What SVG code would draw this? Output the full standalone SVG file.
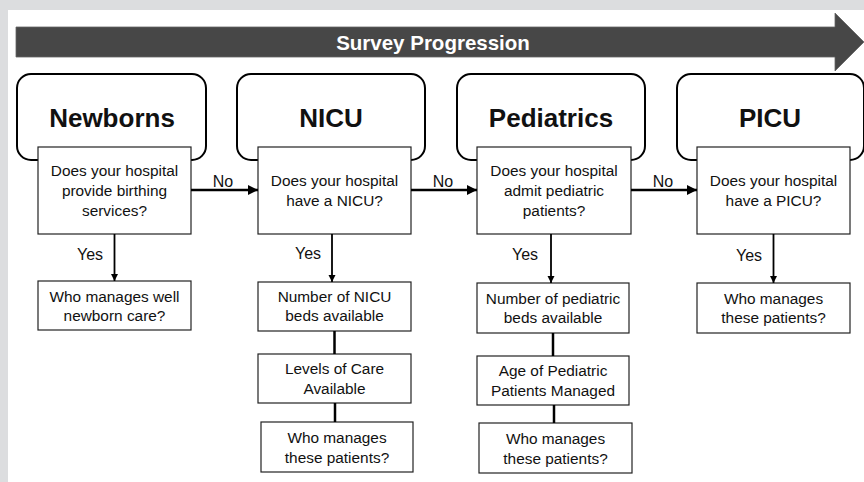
<svg xmlns="http://www.w3.org/2000/svg" width="864" height="482" viewBox="0 0 864 482">
<defs>
<style>
.hdr{fill:#fff;stroke:#000;stroke-width:2}
.q{fill:#fff;stroke:#222;stroke-width:1.2}
.ht{font-family:"Liberation Sans",Arial,sans-serif;font-weight:bold;font-size:26px;fill:#111;text-anchor:middle}
.t{font-family:"Liberation Sans",Arial,sans-serif;font-size:15.4px;fill:#111;text-anchor:middle}
.lbl{font-family:"Liberation Sans",Arial,sans-serif;font-size:16px;fill:#111;text-anchor:middle}
.ln{stroke:#000;stroke-width:2.5;fill:none}
.ln2{stroke:#000;stroke-width:1.8;fill:none}
</style>
<marker id="ah" viewBox="0 0 10 10" refX="10" refY="5" markerWidth="4" markerHeight="4" markerUnits="strokeWidth" orient="auto">
<path d="M0,0 L10,5 L0,10 z" fill="#000"/>
</marker>
<marker id="ahs" viewBox="0 0 10 10" refX="10" refY="5" markerWidth="4" markerHeight="4" markerUnits="strokeWidth" orient="auto">
<path d="M0,0 L10,5 L0,10 z" fill="#000"/>
</marker>
</defs>
<rect x="0" y="0" width="864" height="482" fill="#dcdddf"/>
<rect x="8" y="10" width="856" height="472" fill="#fff"/>

<g id="banner">
<path d="M16,27 L835,27 L835,13 L864,42 L835,71 L835,57 L16,57 Z" fill="#474747" stroke="#666" stroke-width="0.8"/>
<text x="433" y="50" font-family="Liberation Sans, Arial, sans-serif" font-weight="bold" font-size="20.5" fill="#fff" text-anchor="middle">Survey Progression</text>
</g>

<g id="newborns">
<rect class="hdr" x="17" y="74" width="189" height="86" rx="14"/>
<text class="ht" x="112" y="127">Newborns</text>
<rect class="q" x="38" y="147" width="153" height="87"/>
<text class="t" x="114.5" y="176">Does your hospital</text>
<text class="t" x="114.5" y="196">provide birthing</text>
<text class="t" x="114.5" y="216">services?</text>
</g>
<g id="newborns-care">
<rect class="q" x="38" y="281" width="153" height="49"/>
<text class="t" x="114.5" y="302">Who manages well</text>
<text class="t" x="114.5" y="321">newborn care?</text>
</g>

<g id="nicu">
<rect class="hdr" x="237" y="74" width="188" height="86" rx="14"/>
<text class="ht" x="331" y="127">NICU</text>
<rect class="q" x="258" y="147" width="153" height="87"/>
<text class="t" x="334.5" y="186">Does your hospital</text>
<text class="t" x="334.5" y="206">have a NICU?</text>
</g>
<g id="nicu-beds">
<rect class="q" x="258" y="282" width="153" height="49"/>
<text class="t" x="334.5" y="302">Number of NICU</text>
<text class="t" x="334.5" y="321">beds available</text>
</g>
<g id="nicu-levels">
<rect class="q" x="258" y="354" width="153" height="49"/>
<text class="t" x="334.5" y="374">Levels of Care</text>
<text class="t" x="334.5" y="394">Available</text>
</g>
<g id="nicu-who">
<rect class="q" x="261" y="422" width="152" height="50"/>
<text class="t" x="337" y="443">Who manages</text>
<text class="t" x="337" y="463">these patients?</text>
</g>

<g id="pediatrics">
<rect class="hdr" x="457" y="74" width="188" height="86" rx="14"/>
<text class="ht" x="551" y="127">Pediatrics</text>
<rect class="q" x="477" y="147" width="154" height="87"/>
<text class="t" x="554" y="176">Does your hospital</text>
<text class="t" x="554" y="196">admit pediatric</text>
<text class="t" x="554" y="216">patients?</text>
</g>
<g id="ped-beds">
<rect class="q" x="477" y="283" width="152" height="50"/>
<text class="t" x="553" y="304">Number of pediatric</text>
<text class="t" x="553" y="323">beds available</text>
</g>
<g id="ped-age">
<rect class="q" x="477" y="356" width="152" height="49"/>
<text class="t" x="553" y="376">Age of Pediatric</text>
<text class="t" x="553" y="396">Patients Managed</text>
</g>
<g id="ped-who">
<rect class="q" x="479" y="423" width="153" height="50"/>
<text class="t" x="555.5" y="444">Who manages</text>
<text class="t" x="555.5" y="464">these patients?</text>
</g>

<g id="picu">
<rect class="hdr" x="677" y="74" width="187" height="86" rx="14"/>
<text class="ht" x="770" y="127">PICU</text>
<rect class="q" x="697" y="147" width="153" height="87"/>
<text class="t" x="773.5" y="186">Does your hospital</text>
<text class="t" x="773.5" y="206">have a PICU?</text>
</g>
<g id="picu-who">
<rect class="q" x="697" y="283" width="153" height="50"/>
<text class="t" x="773.5" y="304">Who manages</text>
<text class="t" x="773.5" y="323">these patients?</text>
</g>

<g id="connectors">
<line class="ln" x1="191" y1="190" x2="258" y2="190" marker-end="url(#ah)"/>
<line class="ln" x1="411" y1="190" x2="477" y2="190" marker-end="url(#ah)"/>
<line class="ln" x1="631" y1="190" x2="697" y2="190" marker-end="url(#ah)"/>
<text class="lbl" x="223" y="187">No</text>
<text class="lbl" x="443" y="187">No</text>
<text class="lbl" x="663" y="187">No</text>

<line class="ln2" x1="114.5" y1="234" x2="114.5" y2="281" marker-end="url(#ahs)"/>
<line class="ln2" x1="332" y1="234" x2="332" y2="282" marker-end="url(#ahs)"/>
<line class="ln2" x1="551" y1="234" x2="551" y2="283" marker-end="url(#ahs)"/>
<line class="ln2" x1="773.5" y1="234" x2="773.5" y2="283" marker-end="url(#ahs)"/>
<text class="lbl" x="90" y="260">Yes</text>
<text class="lbl" x="308" y="259">Yes</text>
<text class="lbl" x="525" y="260">Yes</text>
<text class="lbl" x="749" y="261">Yes</text>

<line class="ln" x1="334.5" y1="331" x2="334.5" y2="354"/>
<line class="ln" x1="335" y1="403" x2="335" y2="422"/>
<line class="ln" x1="553" y1="333" x2="553" y2="356"/>
<line class="ln" x1="554" y1="405" x2="554" y2="423"/>
</g>
</svg>
